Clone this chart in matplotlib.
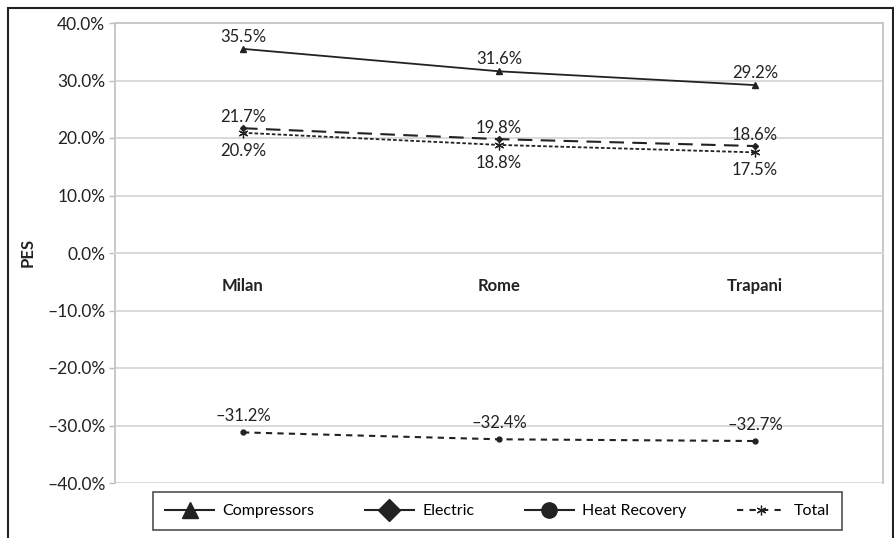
import matplotlib.pyplot as plt
import matplotlib.ticker as ticker
from matplotlib.lines import Line2D
from matplotlib.patches import Rectangle

plt.rcParams['font.family'] = ['Lato', 'DejaVu Sans']

cities = ["Milan", "Rome", "Trapani"]
compressors = [35.5, 31.6, 29.2]
electric = [21.7, 19.8, 18.6]
heat_recovery = [-31.2, -32.4, -32.7]
total = [20.9, 18.8, 17.5]
y_ticks = [40, 30, 20, 10, 0, -10, -20, -30, -40]

INK = "#222222"
ASTERISK = (6, 2, 0)


def pct(v, _=None):
    return f"{v:.1f}%".replace("-", "\u2013")


fig = plt.figure(figsize=(8.95, 5.38), dpi=100)
ax = fig.add_axes([115 / 895, 1 - 483 / 538, 768 / 895, 460 / 538])

x = range(len(cities))
ax.plot(x, compressors, color=INK, linewidth=1.3, marker="^", markersize=4)
ax.plot(x, electric, color=INK, linewidth=1.5, linestyle=(0, (7, 4)), marker="D", markersize=3)
ax.plot(x, heat_recovery, color=INK, linewidth=1.5, linestyle=(0, (3, 2.5)), marker="o", markersize=3.5)
ax.plot(x, total, color=INK, linewidth=1.3, linestyle=(0, (2, 1.2)), marker=ASTERISK, markersize=7,
        markeredgewidth=0.9)

# value labels: above the point, except Total which goes below
for series, off in ((compressors, 3), (electric, 2), (heat_recovery, 6)):
    for i, v in enumerate(series):
        ax.annotate(pct(v), (i, v), xytext=(0, off), textcoords="offset points",
                    ha="center", va="bottom", fontsize=12, color=INK)
for i, v in enumerate(total):
    ax.annotate(pct(v), (i, v), xytext=(0, -7), textcoords="offset points",
                ha="center", va="top", fontsize=12, color=INK)

ax.set_xlim(-0.5, 2.5)
ax.set_ylim(-40, 40)
ax.set_yticks(y_ticks)
ax.yaxis.set_major_formatter(ticker.FuncFormatter(pct))
ax.tick_params(axis="y", labelsize=12.5, colors="#bbbbbb", labelcolor=INK, length=4, width=1, pad=3)
ax.grid(axis="y", color="#d9d9d9", linewidth=1.4)
ax.set_axisbelow(True)

# category labels sit under the zero line
ax.spines["bottom"].set_position(("data", 0))
ax.spines["bottom"].set_color("#d9d9d9")
ax.spines["bottom"].set_linewidth(1.4)
ax.set_xticks(list(x))
ax.set_xticklabels(cities, fontsize=12, fontweight="bold", color=INK)
ax.tick_params(axis="x", length=0, pad=18)
for side in ("left", "right", "top"):
    ax.spines[side].set_color("#c8c8c8")
    ax.spines[side].set_linewidth(1.4)

fig.text(28 / 895, 1 - 252 / 538, "PES", rotation=90, ha="center", va="center",
         fontsize=12, fontweight="bold", color=INK)

handles = [
    Line2D([], [], color=INK, linewidth=1.5, marker="^", markersize=12),
    Line2D([], [], color=INK, linewidth=1.5, marker="D", markersize=11),
    Line2D([], [], color=INK, linewidth=1.5, marker="o", markersize=11),
    Line2D([], [], color=INK, linewidth=1.5, linestyle=(0, (3, 3)), marker=ASTERISK, markersize=7,
           markeredgewidth=0.9),
]
labels = ["Compressors", "Electric", "Heat Recovery", "Total"]
leg = fig.legend(handles, labels, loc="center", bbox_to_anchor=(497.5 / 895, 1 - 511 / 538), ncol=4,
                 fontsize=11.5, frameon=True, fancybox=False, edgecolor=INK, handlelength=3.1,
                 columnspacing=3.15, handletextpad=0.5, borderpad=0.75)
leg.get_frame().set_linewidth(1.2)

fig.patches.append(Rectangle((8 / 895, -0.1), 885 / 895, 1.1 - 8 / 538, transform=fig.transFigure,
                             fill=False, edgecolor=INK, linewidth=1.5, clip_on=False))

fig.savefig("out.png", dpi=100)
